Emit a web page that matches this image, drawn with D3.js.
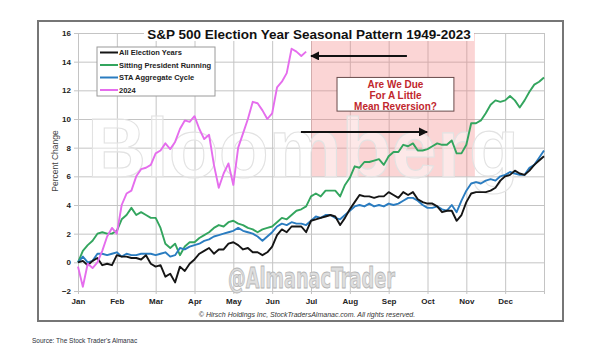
<!DOCTYPE html>
<html>
<head>
<meta charset="utf-8">
<script src="https://cdn.jsdelivr.net/npm/d3@7/dist/d3.min.js"></script>
<style>
    body { margin: 0; background: #fff; }
    svg text { font-family: "Liberation Sans", Arial, sans-serif; }
</style>
</head>
<body>
<svg id="chart" width="591" height="358"></svg>
<script>
// month labels (12 = end of Dec, no label)
var months = ["Jan", "Feb", "Mar", "Apr", "May", "Jun", "Jul", "Aug", "Sep", "Oct", "Nov", "Dec", ""];
var yTicks = [-2, 0, 2, 4, 6, 8, 10, 12, 14, 16];
var step = 1 / 8; // each value is 1/8 of a month apart

// percent change
var allElection = [
    0.0, 0.1, -0.2, 0.1, 0.3, -0.2, -0.1, -0.2,
    0.5, 0.4, 0.4, 0.3, 0.3, 0.2, 0.5, -0.1,
    -0.3, -0.2, -1.0, -0.8, -1.4, -0.3, -0.6, -0.1,
    0.2, 0.6, 0.8, 1.0, 0.6, 0.9, 0.9, 1.3,
    1.4, 1.2, 0.9, 1.0, 0.7, 0.7, 0.5, 0.7,
    1.1, 1.9, 2.3, 2.1, 2.5, 2.5, 2.5, 2.1,
    2.9, 3.0, 3.1, 3.2, 3.3, 3.2, 2.6, 3.1,
    3.7, 4.2, 4.7, 4.6, 4.6, 4.5, 4.6, 4.6,
    4.9, 4.7, 4.5, 4.9, 4.7, 4.9, 4.4, 4.2,
    4.1, 4.1, 3.9, 3.5, 3.6, 3.6, 2.9, 3.3,
    4.2, 4.8, 4.9, 4.9, 4.9, 5.0, 5.2, 5.7,
    6.0, 6.1, 6.4, 6.2, 6.1, 6.4, 6.8, 7.1,
    7.4
];
var sittingPresident = [
    0.0, 0.8, 1.2, 1.5, 2.0, 2.1, 2.0, 2.0,
    2.2, 3.0, 3.3, 3.8, 3.3, 3.5, 3.3, 3.1,
    3.1, 2.4, 1.3, 1.0, 1.3, 0.5, 1.1, 1.4,
    1.4, 1.7, 1.9, 2.1, 2.4, 2.6, 2.5, 2.8,
    2.9, 2.7, 2.6, 2.4, 2.3, 2.1, 2.3, 2.4,
    2.5, 2.8, 3.1, 3.0, 3.3, 3.6, 3.7, 3.9,
    4.6, 4.8, 4.6, 5.0, 5.0, 5.0, 4.6, 5.4,
    5.9, 6.7, 6.6, 7.0, 7.0, 7.1, 7.2, 6.8,
    7.4, 7.7, 7.7, 8.2, 8.1, 8.3, 7.8, 7.8,
    7.9, 8.1, 8.3, 8.2, 8.2, 8.5, 7.6, 7.6,
    8.2, 9.7, 9.7, 9.9, 10.4, 11.0, 11.3, 11.2,
    11.3, 11.6, 11.3, 10.8, 11.3, 11.9, 12.4, 12.6,
    12.9
];
var staCycle = [
    0.0, 0.4, 0.0, 0.1, 0.6, 0.6, 0.5, 0.6,
    0.7, 0.4, 0.6, 0.5, 0.5, 0.6, 0.6, 0.6,
    0.5, 0.6, 0.7, 0.4, 0.5, 1.0, 0.9, 1.1,
    1.2, 1.3, 1.5, 1.6, 1.8, 1.9, 2.0, 2.1,
    2.2, 2.4, 2.2, 2.1, 2.0, 1.8, 1.5, 1.8,
    2.1, 2.5, 2.7, 2.6, 2.8, 2.7, 2.7, 2.6,
    2.9, 3.2, 3.1, 3.3, 3.3, 3.1, 3.0, 3.3,
    3.6, 3.9, 4.0, 3.9, 4.1, 3.9, 4.0, 3.9,
    4.1, 4.0, 4.1, 4.3, 4.5, 4.5, 4.3, 4.0,
    3.8, 3.8, 3.9, 3.7, 3.6, 4.0, 3.5, 4.3,
    5.0, 5.5, 5.6, 5.5, 5.7, 5.8, 5.7, 6.0,
    6.1, 6.3, 6.2, 6.1, 6.1, 6.6, 6.8, 7.3,
    7.8
];
var year2024 = [
    -0.3, -1.7, -0.1, -0.4, 0.0, 0.8, 1.8, 2.4,
    2.0, 4.0, 4.8, 5.0, 6.0, 6.5, 6.6, 6.8,
    7.6, 7.8, 8.3, 7.9, 8.4, 9.3, 9.9, 9.8,
    10.2, 9.3, 8.6, 8.9, 6.8, 5.2, 6.2, 6.9,
    5.4, 8.0, 9.0, 10.0, 11.2, 11.1, 10.6, 10.0,
    10.4, 12.2, 12.6, 13.2, 14.9, 14.7, 14.4, 14.7
];

var seriesNames = ["All Election Years", "Sitting President Running", "STA Aggregate Cycle", "2024"];
var seriesColors = ["#151515", "#33a55e", "#2a7cc0", "#e56ded"];

// annotations in chart units: [month, percent]
var shadeBox = [[6.0, 16], [10.22, 6.0]];
var noteBox = [[6.67, 12.9], [9.68, 10.55]];
var noteLines = ["Are We Due", "For A Little", "Mean Reversion?"];
var arrowLeft = [[8.47, 14.4], [6.0, 14.4]];
var arrowRight = [[5.74, 9.1], [8.99, 9.1]];

var svg = d3.select("#chart");

var x = d3.scaleLinear().domain([0, 12]).range([78, 544]);
var y = d3.scaleLinear().domain([-2, 16]).range([291, 33]);

// outer frame
svg.append("rect")
    .attr("x", 38).attr("y", 21)
    .attr("width", 525).attr("height", 300)
    .attr("fill", "#fff")
    .attr("stroke", "#767676")
    .attr("stroke-width", 2);

// y axis + horizontal grid
var yAxis = d3.axisLeft(y)
    .tickValues(yTicks)
    .tickSize(-(544 - 74))
    .tickPadding(3);

var gy = svg.append("g")
    .attr("transform", "translate(74,0)")
    .call(yAxis);
gy.select(".domain").remove();
gy.selectAll("line").attr("stroke", "#c4c4c4");
gy.selectAll("text")
    .attr("fill", "#222")
    .style("font-size", "8px")
    .style("font-weight", "bold");

// x axis + vertical grid
var xAxis = d3.axisBottom(x)
    .tickValues(d3.range(13))
    .tickFormat(function (d) { return months[d]; })
    .tickSize(-(291 - 33))
    .tickPadding(7);

var gx = svg.append("g")
    .attr("transform", "translate(0,291)")
    .call(xAxis);
gx.select(".domain").remove();
gx.selectAll("line").attr("stroke", "#c4c4c4").attr("y1", 3);
gx.selectAll("text")
    .attr("fill", "#222")
    .style("font-size", "8px")
    .style("font-weight", "bold");

// pink shaded window
svg.append("rect")
    .attr("x", x(shadeBox[0][0]))
    .attr("y", y(shadeBox[0][1]))
    .attr("width", x(shadeBox[1][0]) - x(shadeBox[0][0]))
    .attr("height", y(shadeBox[1][1]) - y(shadeBox[0][1]))
    .attr("fill", "#f47f7f")
    .attr("opacity", 0.33);

// watermarks
svg.append("text")
    .attr("x", 87).attr("y", 177)
    .attr("textLength", 432)
    .attr("lengthAdjust", "spacingAndGlyphs")
    .style("font-size", "84px")
    .style("font-weight", "bold")
    .attr("fill", "#fff")
    .attr("fill-opacity", 0.45)
    .attr("stroke", "#e2e2e2")
    .attr("stroke-width", 1.1)
    .text("Bloomberg");

svg.append("text")
    .attr("x", 228).attr("y", 288)
    .attr("textLength", 167)
    .attr("lengthAdjust", "spacingAndGlyphs")
    .style("font-family", "'Liberation Sans Narrow', 'DejaVu Sans Condensed', sans-serif")
    .style("font-size", "29px")
    .style("font-weight", "bold")
    .attr("fill", "#dedede")
    .attr("stroke", "#b4b4b4")
    .attr("stroke-width", 0.8)
    .text("@AlmanacTrader");

// series lines
var line = d3.line()
    .x(function (d, i) { return x(i * step); })
    .y(function (d) { return y(d); });

var drawOrder = [
    [sittingPresident, 1],
    [staCycle, 2],
    [allElection, 0],
    [year2024, 3]
];
drawOrder.forEach(function (s) {
    svg.append("path")
        .datum(s[0])
        .attr("d", line)
        .attr("fill", "none")
        .attr("stroke", seriesColors[s[1]])
        .attr("stroke-width", 1.9)
        .attr("stroke-linejoin", "round");
});

// arrows
svg.append("defs").append("marker")
    .attr("id", "head")
    .attr("viewBox", "0 0 10 10")
    .attr("refX", 9).attr("refY", 5)
    .attr("markerWidth", 4.5).attr("markerHeight", 4.5)
    .attr("orient", "auto")
    .append("path")
    .attr("d", "M0,0 L10,5 L0,10 Z")
    .attr("fill", "#111");

[arrowLeft, arrowRight].forEach(function (a) {
    svg.append("line")
        .attr("x1", x(a[0][0])).attr("y1", y(a[0][1]))
        .attr("x2", x(a[1][0])).attr("y2", y(a[1][1]))
        .attr("stroke", "#111")
        .attr("stroke-width", 2)
        .attr("marker-end", "url(#head)");
});

// note box
svg.append("rect")
    .attr("x", x(noteBox[0][0]))
    .attr("y", y(noteBox[0][1]))
    .attr("width", x(noteBox[1][0]) - x(noteBox[0][0]))
    .attr("height", y(noteBox[1][1]) - y(noteBox[0][1]))
    .attr("fill", "#fff")
    .attr("stroke", "#6a4b4b")
    .attr("stroke-width", 1);

var noteX = (x(noteBox[0][0]) + x(noteBox[1][0])) / 2;
svg.selectAll(".note")
    .data(noteLines)
    .enter()
    .append("text")
    .attr("class", "note")
    .attr("x", noteX)
    .attr("y", function (d, i) { return y(noteBox[0][1]) + 10.5 + i * 10.8; })
    .attr("text-anchor", "middle")
    .attr("fill", "#c1272d")
    .style("font-size", "10px")
    .style("font-weight", "bold")
    .text(function (d) { return d; });

// title with white backing
svg.append("rect")
    .attr("x", 144).attr("y", 24)
    .attr("width", 330).attr("height", 17)
    .attr("fill", "#fff");
svg.append("text")
    .attr("x", 309).attr("y", 38.5)
    .attr("text-anchor", "middle")
    .attr("fill", "#111")
    .style("font-size", "13.5px")
    .style("font-weight", "bold")
    .text("S&P 500 Election Year Seasonal Pattern 1949-2023");

// legend
var legend = svg.append("g").attr("transform", "translate(97,47)");
legend.append("rect")
    .attr("width", 118).attr("height", 49)
    .attr("fill", "#fff")
    .attr("stroke", "#9a9a9a");
seriesNames.forEach(function (name, i) {
    var ly = 5.5 + i * 12.5;
    legend.append("line")
        .attr("x1", 3).attr("x2", 21)
        .attr("y1", ly).attr("y2", ly)
        .attr("stroke", seriesColors[i])
        .attr("stroke-width", 2);
    legend.append("text")
        .attr("x", 22).attr("y", ly + 2.7)
        .attr("fill", "#222")
        .style("font-size", "7.5px")
        .style("font-weight", "bold")
        .text(name);
});

// y axis label
svg.append("text")
    .attr("transform", "translate(58,161) rotate(-90)")
    .attr("text-anchor", "middle")
    .attr("fill", "#444")
    .style("font-size", "8.5px")
    .text("Percent Change");

// copyright line
svg.append("text")
    .attr("x", 307).attr("y", 317)
    .attr("text-anchor", "middle")
    .attr("fill", "#333")
    .style("font-size", "7px")
    .style("font-style", "italic")
    .text("\u00a9 Hirsch Holdings Inc, StockTradersAlmanac.com. All rights reserved.");

// source
svg.append("text")
    .attr("x", 32).attr("y", 343)
    .attr("fill", "#2b2f3a")
    .style("font-size", "6.5px")
    .text("Source: The Stock Trader's Almanac");
</script>
</body>
</html>
